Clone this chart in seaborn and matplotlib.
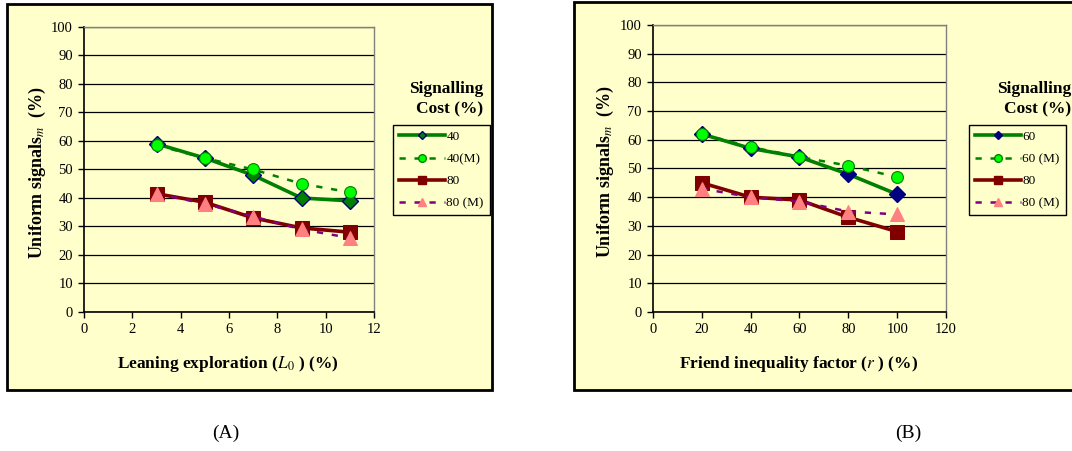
import matplotlib
matplotlib.use("Agg")
import matplotlib.pyplot as plt
from matplotlib.lines import Line2D
from matplotlib.patches import Rectangle
import seaborn as sns

# panel A data
x_a = [3, 5, 7, 9, 11]
a_40 = [59, 54, 48, 40, 39]
a_40m = [58.5, 54, 50, 45, 42]
a_80 = [41.5, 38.5, 33, 29.5, 28]
a_80m = [41.5, 38, 33.5, 29, 26]
labels_a = ["40", "40(M)", "80", "80 (M)"]

# panel B data
x_b = [20, 40, 60, 80, 100]
b_60 = [62, 57, 54, 48, 41]
b_60m = [62, 57.5, 54, 51, 47]
b_80 = [45, 40, 39, 33, 28]
b_80m = [43, 40, 38.5, 35, 34]
labels_b = ["60", "60 (M)", "80", "80 (M)"]

plt.rcParams['font.family'] = ['Liberation Serif', 'DejaVu Serif']
plt.rcParams['mathtext.fontset'] = 'stix'

BG = '#FFFFCC'
GREEN = '#008000'
LIME = '#00FF00'
MAROON = '#800000'
PURPLE = '#800080'
PINK = '#FF8080'
NAVY = '#000080'

fig = plt.figure(figsize=(10.72, 4.51), dpi=100)

# yellow framed panels
fig.patches.append(Rectangle((0.0065, 0.1353), 0.4524, 0.856, transform=fig.transFigure,
                             facecolor=BG, edgecolor='black', lw=2, zorder=-5))
fig.patches.append(Rectangle((0.5355, 0.1353), 0.48, 0.86, transform=fig.transFigure,
                             facecolor=BG, edgecolor='black', lw=2, zorder=-5))

ax_a = fig.add_axes([0.0784, 0.3082, 0.2705, 0.632])
ax_b = fig.add_axes([0.6091, 0.3082, 0.2734, 0.6364])


def draw(ax, x, s1, s1m, s2, s2m, diam_fc):
    sns.lineplot(x=x, y=s1, ax=ax, color=GREEN, lw=2.6, marker='D', markersize=8.5,
                 markerfacecolor=diam_fc, markeredgecolor=NAVY, markeredgewidth=1, legend=False)
    sns.lineplot(x=x, y=s2, ax=ax, color=MAROON, lw=2.6, marker='s', markersize=10.5,
                 markerfacecolor=MAROON, markeredgecolor=MAROON, legend=False)
    sns.lineplot(x=x, y=s1m, ax=ax, color=GREEN, lw=1.8, linestyle=(0, (2.5, 3.5)), marker='o',
                 markersize=8.5, markerfacecolor=LIME, markeredgecolor=GREEN, markeredgewidth=0.8,
                 legend=False)
    sns.lineplot(x=x, y=s2m, ax=ax, color=PURPLE, lw=1.8, linestyle=(0, (2.5, 3.5)), marker='^',
                 markersize=9.5, markerfacecolor=PINK, markeredgecolor=PINK, legend=False)
    ax.set_facecolor(BG)
    ax.set_ylim(0, 100)
    ax.set_yticks(range(0, 101, 10))
    ax.grid(axis='y', color='black', lw=0.9)
    ax.grid(axis='x', visible=False)
    ax.set_axisbelow(True)
    for side in ['left', 'bottom']:
        ax.spines[side].set_color('black')
        ax.spines[side].set_linewidth(1.2)
    for side in ['top', 'right']:
        ax.spines[side].set_color('#808080')
        ax.spines[side].set_linewidth(1)
    ax.tick_params(direction='out', length=4, width=1, labelsize=10.5, colors='black', pad=4)
    ax.set_ylabel(r"Uniform signals$_{\it{m}}$  (%)", fontsize=13, fontweight='bold')


draw(ax_a, x_a, a_40, a_40m, a_80, a_80m, GREEN)
ax_a.set_xlim(0, 12)
ax_a.set_xticks(range(0, 13, 2))
ax_a.set_xlabel(r"Leaning exploration ($\it{L}$$_{\it{0}}$ ) (%)", fontsize=12.5, fontweight='bold')
ax_a.xaxis.set_label_coords(0.497, -0.147)
ax_a.yaxis.set_label_coords(-0.124, 0.49)

draw(ax_b, x_b, b_60, b_60m, b_80, b_80m, NAVY)
ax_b.set_xlim(0, 120)
ax_b.set_xticks(range(0, 121, 20))
ax_b.set_xlabel(r"Friend inequality factor ($\it{r}$ ) (%)", fontsize=12.5, fontweight='bold')
ax_b.xaxis.set_label_coords(0.498, -0.147)
ax_b.yaxis.set_label_coords(-0.126, 0.49)


def handles(diam_fc):
    return [
        Line2D([], [], color=GREEN, lw=2.6, marker='D', ms=4.5, mfc=diam_fc, mec=NAVY),
        Line2D([], [], color=GREEN, lw=1.8, ls=(0, (2.5, 3.5)), marker='o', ms=5.5, mfc=LIME, mec=GREEN),
        Line2D([], [], color=MAROON, lw=2.6, marker='s', ms=5.5, mfc=MAROON, mec=MAROON),
        Line2D([], [], color=PURPLE, lw=1.8, ls=(0, (2.5, 3.5)), marker='^', ms=5.5, mfc=PINK, mec=PINK),
    ]


for hl, labs, x0, tx in [(handles(GREEN), labels_a, 0.3666, 0.4505),
                         (handles(NAVY), labels_b, 0.9039, 0.999)]:
    leg = fig.legend(hl, labs, loc='upper left', bbox_to_anchor=(x0, 0.723),
                     frameon=True, fontsize=9.5, handlelength=3.5, framealpha=1,
                     handletextpad=0.1, labelspacing=0.75, borderpad=0.45, borderaxespad=0,
                     fancybox=False, edgecolor='black', facecolor=BG)
    leg.get_frame().set_linewidth(1)
    fig.text(tx, 0.78, "Signalling\nCost (%)", ha='right', va='center', multialignment='right',
             fontsize=12.5, fontweight='bold', linespacing=1.3)

fig.text(0.211, 0.04, "(A)", ha='center', va='center', fontsize=14)
fig.text(0.847, 0.04, "(B)", ha='center', va='center', fontsize=14)

fig.savefig("out.png", dpi=100, facecolor='white')
